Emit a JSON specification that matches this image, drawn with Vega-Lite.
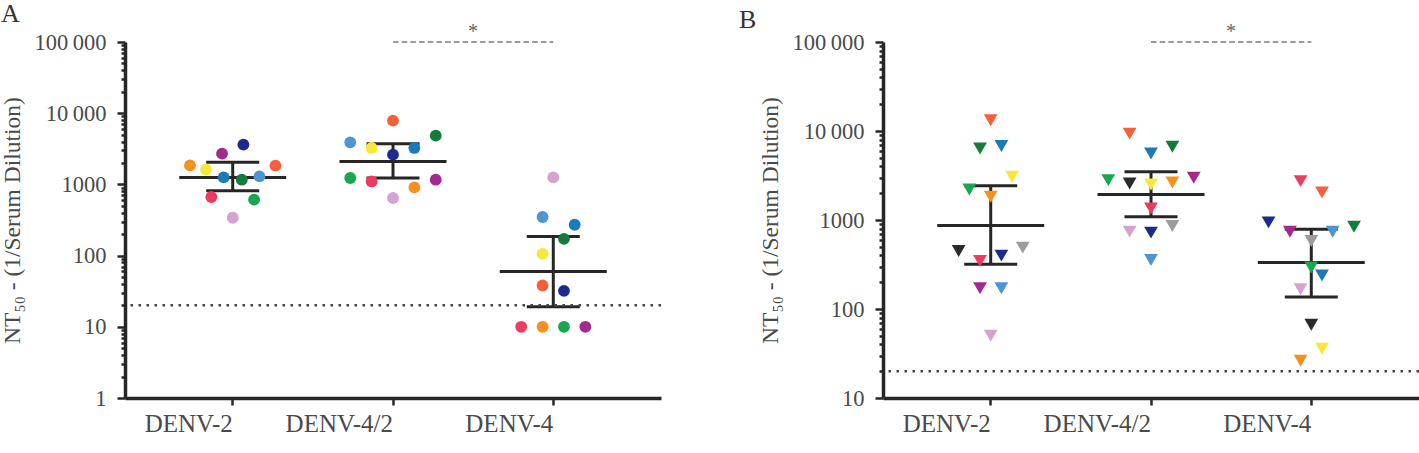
{
  "$schema": "https://vega.github.io/schema/vega-lite/v6.json",
  "padding": {"left": 0, "top": 0, "right": 0, "bottom": 0},
  "background": "white",
  "spacing": 75,
  "datasets": {
    "pointsA": [
      {"virus": "DENV-2", "subject": "S1", "nt50": 1850, "slot": -4},
      {"virus": "DENV-2", "subject": "S2", "nt50": 1610, "slot": -2.5},
      {"virus": "DENV-2", "subject": "S3", "nt50": 2700, "slot": -1},
      {"virus": "DENV-2", "subject": "S4", "nt50": 3620, "slot": 1},
      {"virus": "DENV-2", "subject": "S5", "nt50": 1254, "slot": -0.85},
      {"virus": "DENV-2", "subject": "S6", "nt50": 1164, "slot": 0.85},
      {"virus": "DENV-2", "subject": "S7", "nt50": 1295, "slot": 2.5},
      {"virus": "DENV-2", "subject": "S8", "nt50": 1832, "slot": 4},
      {"virus": "DENV-2", "subject": "S9", "nt50": 665, "slot": -2},
      {"virus": "DENV-2", "subject": "S10", "nt50": 610, "slot": 2},
      {"virus": "DENV-2", "subject": "S11", "nt50": 340, "slot": 0},
      {"virus": "DENV-4/2", "subject": "S8", "nt50": 7870, "slot": 0},
      {"virus": "DENV-4/2", "subject": "S7", "nt50": 3900, "slot": -4},
      {"virus": "DENV-4/2", "subject": "S2", "nt50": 3250, "slot": -2},
      {"virus": "DENV-4/2", "subject": "S4", "nt50": 2617, "slot": 0},
      {"virus": "DENV-4/2", "subject": "S5", "nt50": 3250, "slot": 2},
      {"virus": "DENV-4/2", "subject": "S6", "nt50": 4840, "slot": 4},
      {"virus": "DENV-4/2", "subject": "S10", "nt50": 1230, "slot": -4},
      {"virus": "DENV-4/2", "subject": "S9", "nt50": 1100, "slot": -2},
      {"virus": "DENV-4/2", "subject": "S1", "nt50": 908, "slot": 2},
      {"virus": "DENV-4/2", "subject": "S3", "nt50": 1164, "slot": 4},
      {"virus": "DENV-4/2", "subject": "S11", "nt50": 644, "slot": 0},
      {"virus": "DENV-4", "subject": "S11", "nt50": 1254, "slot": 0},
      {"virus": "DENV-4", "subject": "S7", "nt50": 348, "slot": -1},
      {"virus": "DENV-4", "subject": "S5", "nt50": 271, "slot": 2},
      {"virus": "DENV-4", "subject": "S6", "nt50": 172, "slot": 1},
      {"virus": "DENV-4", "subject": "S2", "nt50": 106, "slot": -1},
      {"virus": "DENV-4", "subject": "S8", "nt50": 38, "slot": -1},
      {"virus": "DENV-4", "subject": "S4", "nt50": 32, "slot": 1},
      {"virus": "DENV-4", "subject": "S9", "nt50": 10, "slot": -3},
      {"virus": "DENV-4", "subject": "S1", "nt50": 10, "slot": -1},
      {"virus": "DENV-4", "subject": "S10", "nt50": 10, "slot": 1},
      {"virus": "DENV-4", "subject": "S3", "nt50": 10, "slot": 3}
    ],
    "summaryA": [
      {"virus": "DENV-2", "mean": 1254, "lo": 815, "hi": 2040},
      {"virus": "DENV-4/2", "mean": 2105, "lo": 1230, "hi": 3735},
      {"virus": "DENV-4", "mean": 60, "lo": 19.2, "hi": 185}
    ],
    "pointsB": [
      {"virus": "DENV-2", "subject": "S8", "nt50": 13200, "slot": 0},
      {"virus": "DENV-2", "subject": "S6", "nt50": 6350, "slot": -1},
      {"virus": "DENV-2", "subject": "S5", "nt50": 6800, "slot": 1},
      {"virus": "DENV-2", "subject": "S2", "nt50": 3058, "slot": 2},
      {"virus": "DENV-2", "subject": "S10", "nt50": 2200, "slot": -2},
      {"virus": "DENV-2", "subject": "S1", "nt50": 1822, "slot": 0},
      {"virus": "DENV-2", "subject": "S12", "nt50": 449, "slot": -3},
      {"virus": "DENV-2", "subject": "S13", "nt50": 489, "slot": 3},
      {"virus": "DENV-2", "subject": "S9", "nt50": 347, "slot": -1},
      {"virus": "DENV-2", "subject": "S4", "nt50": 398, "slot": 1},
      {"virus": "DENV-2", "subject": "S3", "nt50": 171, "slot": -1},
      {"virus": "DENV-2", "subject": "S7", "nt50": 171, "slot": 1},
      {"virus": "DENV-2", "subject": "S11", "nt50": 50, "slot": 0},
      {"virus": "DENV-4/2", "subject": "S8", "nt50": 9350, "slot": -2},
      {"virus": "DENV-4/2", "subject": "S5", "nt50": 5580, "slot": 0},
      {"virus": "DENV-4/2", "subject": "S6", "nt50": 6640, "slot": 2},
      {"virus": "DENV-4/2", "subject": "S10", "nt50": 2806, "slot": -4},
      {"virus": "DENV-4/2", "subject": "S12", "nt50": 2570, "slot": -2},
      {"virus": "DENV-4/2", "subject": "S2", "nt50": 2506, "slot": 0},
      {"virus": "DENV-4/2", "subject": "S1", "nt50": 2640, "slot": 2},
      {"virus": "DENV-4/2", "subject": "S3", "nt50": 2980, "slot": 4},
      {"virus": "DENV-4/2", "subject": "S9", "nt50": 1349, "slot": 0},
      {"virus": "DENV-4/2", "subject": "S11", "nt50": 740, "slot": -2},
      {"virus": "DENV-4/2", "subject": "S4", "nt50": 721, "slot": 0},
      {"virus": "DENV-4/2", "subject": "S13", "nt50": 857, "slot": 2},
      {"virus": "DENV-4/2", "subject": "S7", "nt50": 356, "slot": 0},
      {"virus": "DENV-4", "subject": "S9", "nt50": 2735, "slot": -1},
      {"virus": "DENV-4", "subject": "S8", "nt50": 2035, "slot": 1},
      {"virus": "DENV-4", "subject": "S4", "nt50": 940, "slot": -4},
      {"virus": "DENV-4", "subject": "S3", "nt50": 739, "slot": -2},
      {"virus": "DENV-4", "subject": "S7", "nt50": 739, "slot": 2},
      {"virus": "DENV-4", "subject": "S6", "nt50": 841, "slot": 4},
      {"virus": "DENV-4", "subject": "S13", "nt50": 582, "slot": 0},
      {"virus": "DENV-4", "subject": "S10", "nt50": 292, "slot": 0},
      {"virus": "DENV-4", "subject": "S5", "nt50": 238, "slot": 1},
      {"virus": "DENV-4", "subject": "S11", "nt50": 167, "slot": -1},
      {"virus": "DENV-4", "subject": "S12", "nt50": 66.5, "slot": 0},
      {"virus": "DENV-4", "subject": "S2", "nt50": 35.8, "slot": 1},
      {"virus": "DENV-4", "subject": "S1", "nt50": 26.2, "slot": -1}
    ],
    "summaryB": [
      {"virus": "DENV-2", "mean": 870, "lo": 318, "hi": 2427},
      {"virus": "DENV-4/2", "mean": 1936, "lo": 1089, "hi": 3478},
      {"virus": "DENV-4", "mean": 332, "lo": 136, "hi": 785}
    ],
    "cutoff": [
      {"limit": 20}
    ],
    "signif": [
      {"from": "DENV-4/2", "to": "DENV-4", "top": 100000, "label": "*"}
    ]
  },
  "hconcat": [
    {
      "title": {"text": "A", "anchor": "start", "frame": "bounds", "font": "Liberation Serif", "fontSize": 26, "fontWeight": "normal", "color": "#333333", "offset": -4.5},
      "width": 536,
      "height": 356,
      "layer": [
        {
          "data": {"name": "summaryA"},
          "mark": {"type": "rule", "strokeWidth": 3, "color": "#262626"},
          "encoding": {
            "x": {"field": "virus", "type": "nominal", "title": null, "scale": {"domain": ["DENV-2", "DENV-4/2", "DENV-4"], "paddingInner": 0, "paddingOuter": 0.172, "align": 0.5}},
            "y": {"field": "lo", "type": "quantitative", "title": "NT₅₀ - (1/Serum Dilution)", "scale": {"type": "log", "domain": [1, 100000], "nice": false}},
            "y2": {"field": "hi"}
          }
        },
        {
          "data": {"name": "summaryA"},
          "mark": {"type": "tick", "size": 107, "thickness": 3, "color": "#262626", "opacity": 1, "orient": "horizontal"},
          "encoding": {
            "x": {"field": "virus", "type": "nominal", "title": null, "scale": {"domain": ["DENV-2", "DENV-4/2", "DENV-4"], "paddingInner": 0, "paddingOuter": 0.172, "align": 0.5}},
            "y": {"field": "mean", "type": "quantitative", "title": "NT₅₀ - (1/Serum Dilution)"}
          }
        },
        {
          "data": {"name": "summaryA"},
          "mark": {"type": "tick", "size": 53, "thickness": 3, "color": "#262626", "opacity": 1, "orient": "horizontal"},
          "encoding": {
            "x": {"field": "virus", "type": "nominal", "title": null, "scale": {"domain": ["DENV-2", "DENV-4/2", "DENV-4"], "paddingInner": 0, "paddingOuter": 0.172, "align": 0.5}},
            "y": {"field": "lo", "type": "quantitative", "title": "NT₅₀ - (1/Serum Dilution)"}
          }
        },
        {
          "data": {"name": "summaryA"},
          "mark": {"type": "tick", "size": 53, "thickness": 3, "color": "#262626", "opacity": 1, "orient": "horizontal"},
          "encoding": {
            "x": {"field": "virus", "type": "nominal", "title": null, "scale": {"domain": ["DENV-2", "DENV-4/2", "DENV-4"], "paddingInner": 0, "paddingOuter": 0.172, "align": 0.5}},
            "y": {"field": "hi", "type": "quantitative", "title": "NT₅₀ - (1/Serum Dilution)"}
          }
        },
        {
          "data": {"name": "cutoff"},
          "mark": {"type": "rule", "strokeDash": [2.5, 5.5], "strokeWidth": 2.5, "color": "#444444"},
          "encoding": {
            "y": {"field": "limit", "type": "quantitative", "title": "NT₅₀ - (1/Serum Dilution)"}
          }
        },
        {
          "data": {"name": "pointsA"},
          "mark": {"type": "circle", "size": 140, "opacity": 1},
          "encoding": {
            "x": {
              "field": "virus", "type": "nominal", "title": null,
              "scale": {"domain": ["DENV-2", "DENV-4/2", "DENV-4"], "paddingInner": 0, "paddingOuter": 0.172, "align": 0.5},
              "axis": {"labelAngle": 0, "tickSize": 7}
            },
            "xOffset": {"field": "slot", "type": "quantitative", "scale": {"domain": [-7.5, 7.5]}},
            "y": {
              "field": "nt50", "type": "quantitative", "title": "NT₅₀ - (1/Serum Dilution)",
              "axis": {
                "values": [1, 2, 3, 4, 5, 6, 7, 8, 9, 10, 20, 30, 40, 50, 60, 70, 80, 90, 100, 200, 300, 400, 500, 600, 700, 800, 900, 1000, 2000, 3000, 4000, 5000, 6000, 7000, 8000, 9000, 10000, 20000, 30000, 40000, 50000, 60000, 70000, 80000, 90000, 100000],
                "labelExpr": "indexof([10000, 100000], datum.value) >= 0 ? replace(format(datum.value, ','), ',', '\u2009') : (indexof([1, 10, 100, 1000], datum.value) >= 0 ? format(datum.value, 'd') : '')",
                "tickSize": {"condition": {"test": "indexof([1, 10, 100, 1000, 10000, 100000], datum.value) >= 0", "value": 8}, "value": 4}
              }
            },
            "color": {
              "field": "subject", "type": "nominal", "legend": null,
              "scale": {
                "domain": ["S1", "S2", "S3", "S4", "S5", "S6", "S7", "S8", "S9", "S10", "S11", "S12", "S13"],
                "range": ["#f7901e", "#f9e73a", "#a3298f", "#1b2a8c", "#1b7bb8", "#157a3c", "#4d95d2", "#f4603c", "#ec3b5f", "#16a84f", "#d6a2cf", "#2b2b2b", "#9c9c9c"]
              }
            }
          }
        },
        {
          "data": {"name": "signif"},
          "mark": {"type": "rule", "strokeDash": [5.5, 3.2], "strokeWidth": 2, "color": "#9a9a9a"},
          "encoding": {
            "x": {"field": "from", "type": "nominal", "title": null, "scale": {"domain": ["DENV-2", "DENV-4/2", "DENV-4"], "paddingInner": 0, "paddingOuter": 0.172, "align": 0.5}},
            "x2": {"field": "to"},
            "y": {"field": "top", "type": "quantitative", "title": "NT₅₀ - (1/Serum Dilution)"}
          }
        },
        {
          "data": {"name": "signif"},
          "mark": {"type": "text", "font": "Liberation Serif", "fontSize": 20, "color": "#666666", "baseline": "alphabetic", "dx": 80, "dy": -4},
          "encoding": {
            "x": {"field": "from", "type": "nominal", "title": null, "scale": {"domain": ["DENV-2", "DENV-4/2", "DENV-4"], "paddingInner": 0, "paddingOuter": 0.172, "align": 0.5}},
            "y": {"field": "top", "type": "quantitative", "title": "NT₅₀ - (1/Serum Dilution)"},
            "text": {"field": "label"}
          }
        }
      ]
    },
    {
      "title": {"text": "B", "anchor": "start", "frame": "bounds", "font": "Liberation Serif", "fontSize": 26, "fontWeight": "normal", "color": "#333333", "offset": -11, "dx": -20},
      "width": 536,
      "height": 356,
      "layer": [
        {
          "data": {"name": "summaryB"},
          "mark": {"type": "rule", "strokeWidth": 3, "color": "#262626"},
          "encoding": {
            "x": {"field": "virus", "type": "nominal", "title": null, "scale": {"domain": ["DENV-2", "DENV-4/2", "DENV-4"], "paddingInner": 0, "paddingOuter": 0.172, "align": 0.5}},
            "y": {"field": "lo", "type": "quantitative", "title": "NT₅₀ - (1/Serum Dilution)", "scale": {"type": "log", "domain": [10, 100000], "nice": false}},
            "y2": {"field": "hi"}
          }
        },
        {
          "data": {"name": "summaryB"},
          "mark": {"type": "tick", "size": 107, "thickness": 3, "color": "#262626", "opacity": 1, "orient": "horizontal"},
          "encoding": {
            "x": {"field": "virus", "type": "nominal", "title": null, "scale": {"domain": ["DENV-2", "DENV-4/2", "DENV-4"], "paddingInner": 0, "paddingOuter": 0.172, "align": 0.5}},
            "y": {"field": "mean", "type": "quantitative", "title": "NT₅₀ - (1/Serum Dilution)"}
          }
        },
        {
          "data": {"name": "summaryB"},
          "mark": {"type": "tick", "size": 53, "thickness": 3, "color": "#262626", "opacity": 1, "orient": "horizontal"},
          "encoding": {
            "x": {"field": "virus", "type": "nominal", "title": null, "scale": {"domain": ["DENV-2", "DENV-4/2", "DENV-4"], "paddingInner": 0, "paddingOuter": 0.172, "align": 0.5}},
            "y": {"field": "lo", "type": "quantitative", "title": "NT₅₀ - (1/Serum Dilution)"}
          }
        },
        {
          "data": {"name": "summaryB"},
          "mark": {"type": "tick", "size": 53, "thickness": 3, "color": "#262626", "opacity": 1, "orient": "horizontal"},
          "encoding": {
            "x": {"field": "virus", "type": "nominal", "title": null, "scale": {"domain": ["DENV-2", "DENV-4/2", "DENV-4"], "paddingInner": 0, "paddingOuter": 0.172, "align": 0.5}},
            "y": {"field": "hi", "type": "quantitative", "title": "NT₅₀ - (1/Serum Dilution)"}
          }
        },
        {
          "data": {"name": "cutoff"},
          "mark": {"type": "rule", "strokeDash": [2.5, 5.5], "strokeWidth": 2.5, "color": "#444444"},
          "encoding": {
            "y": {"field": "limit", "type": "quantitative", "title": "NT₅₀ - (1/Serum Dilution)"}
          }
        },
        {
          "data": {"name": "pointsB"},
          "mark": {"type": "point", "shape": "triangle-down", "size": 190, "filled": true, "opacity": 1},
          "encoding": {
            "x": {
              "field": "virus", "type": "nominal", "title": null,
              "scale": {"domain": ["DENV-2", "DENV-4/2", "DENV-4"], "paddingInner": 0, "paddingOuter": 0.172, "align": 0.5},
              "axis": {"labelAngle": 0, "tickSize": 7}
            },
            "xOffset": {"field": "slot", "type": "quantitative", "scale": {"domain": [-7.5, 7.5]}},
            "y": {
              "field": "nt50", "type": "quantitative", "title": "NT₅₀ - (1/Serum Dilution)",
              "axis": {
                "values": [10, 20, 30, 40, 50, 60, 70, 80, 90, 100, 200, 300, 400, 500, 600, 700, 800, 900, 1000, 2000, 3000, 4000, 5000, 6000, 7000, 8000, 9000, 10000, 20000, 30000, 40000, 50000, 60000, 70000, 80000, 90000, 100000],
                "labelExpr": "indexof([10000, 100000], datum.value) >= 0 ? replace(format(datum.value, ','), ',', '\u2009') : (indexof([10, 100, 1000], datum.value) >= 0 ? format(datum.value, 'd') : '')",
                "tickSize": {"condition": {"test": "indexof([10, 100, 1000, 10000, 100000], datum.value) >= 0", "value": 8}, "value": 4}
              }
            },
            "color": {
              "field": "subject", "type": "nominal", "legend": null,
              "scale": {
                "domain": ["S1", "S2", "S3", "S4", "S5", "S6", "S7", "S8", "S9", "S10", "S11", "S12", "S13"],
                "range": ["#f7901e", "#f9e73a", "#a3298f", "#1b2a8c", "#1b7bb8", "#157a3c", "#4d95d2", "#f4603c", "#ec3b5f", "#16a84f", "#d6a2cf", "#2b2b2b", "#9c9c9c"]
              }
            }
          }
        },
        {
          "data": {"name": "signif"},
          "mark": {"type": "rule", "strokeDash": [5.5, 3.2], "strokeWidth": 2, "color": "#9a9a9a"},
          "encoding": {
            "x": {"field": "from", "type": "nominal", "title": null, "scale": {"domain": ["DENV-2", "DENV-4/2", "DENV-4"], "paddingInner": 0, "paddingOuter": 0.172, "align": 0.5}},
            "x2": {"field": "to"},
            "y": {"field": "top", "type": "quantitative", "title": "NT₅₀ - (1/Serum Dilution)"}
          }
        },
        {
          "data": {"name": "signif"},
          "mark": {"type": "text", "font": "Liberation Serif", "fontSize": 20, "color": "#666666", "baseline": "alphabetic", "dx": 80, "dy": -4},
          "encoding": {
            "x": {"field": "from", "type": "nominal", "title": null, "scale": {"domain": ["DENV-2", "DENV-4/2", "DENV-4"], "paddingInner": 0, "paddingOuter": 0.172, "align": 0.5}},
            "y": {"field": "top", "type": "quantitative", "title": "NT₅₀ - (1/Serum Dilution)"},
            "text": {"field": "label"}
          }
        }
      ]
    }
  ],
  "resolve": {"scale": {"color": "shared"}},
  "config": {
    "view": {"stroke": null},
    "axis": {
      "grid": false,
      "domainColor": "#262626",
      "domainWidth": 3.5,
      "tickColor": "#262626",
      "tickWidth": 2.5,
      "labelFont": "Liberation Serif",
      "labelColor": "#4a4a4a",
      "labelOverlap": false,
      "labelBound": false,
      "labelFlush": false,
      "titleFont": "Liberation Serif",
      "titleFontSize": 23.5,
      "titleFontWeight": "normal",
      "titleColor": "#4a4a4a"
    },
    "axisX": {"labelFontSize": 25, "labelPadding": 18},
    "axisY": {"labelFontSize": 22.5, "labelPadding": 11, "titlePadding": 9}
  }
}
